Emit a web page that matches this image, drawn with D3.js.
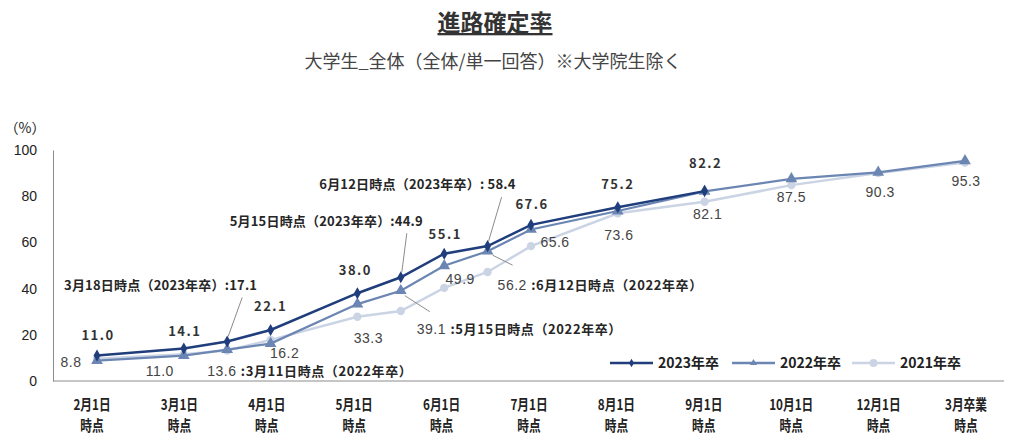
<!DOCTYPE html>
<html>
<head>
  <meta charset="utf-8">
  <script src="https://d3js.org/d3.v7.min.js"></script>
  <style>
  body { margin: 0; background: #fff; }
  svg { display: block; }
  .jp { font-family: "Noto Sans CJK JP", "Noto Sans", sans-serif; }
  .num { font-family: "Liberation Sans", Arial, sans-serif; }
  .y.axis text { font-family: "Liberation Sans", Arial, sans-serif; font-size: 14px; fill: #222; }
  .y.axis path { stroke: #8c8c8c; }
  </style>
</head>
<body>
<script>
// categories on the x axis (index 0..10), intermediate dates sit on half steps
var categories = ['2月1日', '3月1日', '4月1日', '5月1日', '6月1日', '7月1日', '8月1日', '9月1日', '10月1日', '12月1日', '3月卒業'];
var yTicks = [0, 20, 40, 60, 80, 100];

var pos2023 = [0, 1, 1.5, 2, 3, 3.5, 4, 4.5, 5, 6, 7];
var val2023 = [11.0, 14.1, 17.1, 22.1, 38.0, 44.9, 55.1, 58.4, 67.6, 75.2, 82.2];

var pos2022 = [0, 1, 1.5, 2, 3, 3.5, 4, 4.5, 5, 6, 7, 8, 9, 10];
var val2022 = [8.8, 11.0, 13.6, 16.2, 33.3, 39.1, 49.9, 56.2, 65.6, 73.6, 82.1, 87.5, 90.3, 95.3];

var pos2021 = [0, 1, 1.5, 2, 3, 3.5, 4, 4.5, 5, 6, 7, 8, 9, 10];
var val2021 = [9.6, 11.6, 13.2, 17.8, 27.8, 30.3, 40.3, 47.2, 58.4, 72.6, 77.6, 84.8, 90.0, 94.6];

var seriesNames = ['2023年卒', '2022年卒', '2021年卒'];

// annotations (intermediate dates)
var notes2023 = ['3月18日時点（2023年卒）:17.1', '5月15日時点（2023年卒）:44.9', '6月12日時点（2023年卒）: 58.4'];
var notes2022 = ['3月11日時点（2022年卒）', '5月15日時点（2022年卒）', '6月12日時点（2022年卒）'];

var W = 1021, H = 442;
var colors = ['#1f3e7b', '#6b86b2', '#cbd4e4'];

var svg = d3.select('body').append('svg')
  .attr('width', W).attr('height', H);

// title
svg.append('text').attr('class', 'jp')
  .attr('x', 495).attr('y', 31)
  .attr('text-anchor', 'middle')
  .style('font-size', '23px').style('font-weight', 'bold').style('fill', '#333')
  .style('text-decoration', 'underline')
  .text('進路確定率');

svg.append('text').attr('class', 'jp')
  .attr('x', 493).attr('y', 68)
  .attr('text-anchor', 'middle')
  .style('font-size', '18px').style('fill', '#444')
  .text('大学生_全体（全体/単一回答）※大学院生除く');

var x = d3.scaleLinear().domain([0, 10]).range([97, 965]);
var y = d3.scaleLinear().domain([0, 100]).range([381, 150]);

// y axis
var yAxis = d3.axisLeft(y).tickValues(yTicks).tickSizeInner(0).tickSizeOuter(0).tickPadding(16);
svg.append('g').attr('class', 'y axis')
  .attr('transform', 'translate(53,0)')
  .call(yAxis);

svg.append('text').attr('class', 'jp')
  .attr('x', 25).attr('y', 133).attr('text-anchor', 'middle')
  .style('font-size', '14px').style('fill', '#222')
  .text('（%）');

// x axis line
svg.append('line')
  .attr('x1', 53).attr('x2', x(10.45))
  .attr('y1', y(0)).attr('y2', y(0))
  .style('stroke', '#8c8c8c');

// x labels (two lines, condensed)
var xl = svg.append('g').selectAll('g')
  .data(categories).enter().append('g')
  .attr('transform', function(d, i) { return 'translate(' + (x(i) - 5 + i * 0.6) + ',0)'; });

xl.append('text').attr('class', 'jp')
  .attr('transform', 'translate(0,410) scale(0.78,1)')
  .attr('text-anchor', 'middle')
  .style('font-size', '15px').style('font-weight', 'bold').style('fill', '#222')
  .text(function(d) { return d; });
xl.append('text').attr('class', 'jp')
  .attr('transform', 'translate(0,431) scale(0.78,1)')
  .attr('text-anchor', 'middle')
  .style('font-size', '15px').style('font-weight', 'bold').style('fill', '#222')
  .text('時点');

var line = d3.line()
  .x(function(d) { return x(d[0]); })
  .y(function(d) { return y(d[1]); });

var series = [
  { pos: pos2021, val: val2021, color: colors[2], sym: d3.symbolCircle, size: 55, w: 2.5 },
  { pos: pos2022, val: val2022, color: colors[1], sym: d3.symbolTriangle, size: 60, w: 2.2 },
  { pos: pos2023, val: val2023, color: colors[0], sym: d3.symbolDiamond, size: 42, w: 2.5 }
];

series.forEach(function(s) {
  var pts = d3.zip(s.pos, s.val);
  svg.append('path').datum(pts)
    .attr('d', line)
    .style('fill', 'none').style('stroke', s.color).style('stroke-width', s.w);
  svg.append('g').selectAll('path')
    .data(pts).enter().append('path')
    .attr('d', d3.symbol().type(s.sym).size(s.size))
    .attr('transform', function(d) { return 'translate(' + x(d[0]) + ',' + y(d[1]) + ')'; })
    .style('fill', s.color);
});

// 2023 value labels on the month points (bold)
var off2023 = { 0: [1, -16], 1: [1, -12], 2: [0, -19], 3: [-2, -18], 4: [1, -15], 5: [1, -16], 6: [0, -18], 7: [1, -23] };
svg.append('g').selectAll('text')
  .data(d3.zip(pos2023, val2023).filter(function(d) { return off2023[d[0]]; }))
  .enter().append('text').attr('class', 'jp')
  .attr('x', function(d) { return x(d[0]) + off2023[d[0]][0]; })
  .attr('y', function(d) { return y(d[1]) + off2023[d[0]][1]; })
  .attr('text-anchor', 'middle')
  .style('font-size', '13px').style('font-weight', 'bold').style('fill', '#333')
  .style('letter-spacing', '1.5px')
  .text(function(d) { return d[1].toFixed(1); });

// 2022 value labels (regular)
var off2022 = { 0: [-26, 6], 1: [-24, 20], 2: [14, 14], 3: [11, 39], 4: [16, 18], 5: [24, 18], 6: [1, 29], 7: [3, 28], 8: [0, 23], 9: [2, 25], 10: [1, 25] };
svg.append('g').selectAll('text')
  .data(d3.zip(pos2022, val2022).filter(function(d) { return off2022[d[0]]; }))
  .enter().append('text').attr('class', 'num')
  .attr('x', function(d) { return x(d[0]) + off2022[d[0]][0]; })
  .attr('y', function(d) { return y(d[1]) + off2022[d[0]][1]; })
  .attr('text-anchor', 'middle')
  .style('font-size', '14px').style('fill', '#444')
  .style('letter-spacing', '0.5px')
  .text(function(d) { return d[1].toFixed(1); });

// 2023 annotations: text right end, y and leader line start, relative to point
var ann2023 = [
  { p: 1.5, tx: 30, ty: -51, lx: 15, ly: -44 },
  { p: 3.5, tx: 22, ty: -51, lx: 6, ly: -44 },
  { p: 4.5, tx: 28, ty: -57, lx: 14, ly: -49 }
];
ann2023.forEach(function(a, i) {
  var v = val2023[pos2023.indexOf(a.p)];
  var px = x(a.p), py = y(v);
  svg.append('line')
    .attr('x1', px + a.lx).attr('y1', py + a.ly)
    .attr('x2', px + 1).attr('y2', py - 5)
    .style('stroke', '#8c8c8c').style('stroke-width', 1);
  svg.append('text').attr('class', 'jp')
    .attr('x', px + a.tx).attr('y', py + a.ty)
    .attr('text-anchor', 'end')
    .style('font-size', '13px').style('font-weight', 'bold').style('fill', '#262626')
    .style('letter-spacing', '0.2px')
    .text(notes2023[i]);
});

// 2022 annotations: value then date, to the right
var ann2022 = [
  { p: 1.5, tx: -20, ty: 26, line: false },
  { p: 3.5, tx: 16, ty: 43, line: true, lx1: 4, ly1: 5, lx2: 29, ly2: 21 },
  { p: 4.5, tx: 10, ty: 39, line: true, lx1: 5, ly1: 4, lx2: 25, ly2: 14 }
];
ann2022.forEach(function(a, i) {
  var v = val2022[pos2022.indexOf(a.p)];
  var px = x(a.p), py = y(v);
  if (a.line) {
    svg.append('line')
      .attr('x1', px + a.lx1).attr('y1', py + a.ly1)
      .attr('x2', px + a.lx2).attr('y2', py + a.ly2)
      .style('stroke', '#8c8c8c').style('stroke-width', 1);
  }
  var t = svg.append('text')
    .attr('x', px + a.tx).attr('y', py + a.ty);
  t.append('tspan').attr('class', 'num')
    .style('font-size', '14px').style('fill', '#444').style('letter-spacing', '0.5px')
    .text(v.toFixed(1) + ' ');
  t.append('tspan').attr('class', 'jp')
    .style('font-size', '13px').style('font-weight', 'bold').style('fill', '#262626')
    .style('letter-spacing', '0.6px')
    .text(':' + notes2022[i]);
});

// legend
var legX = [610, 732, 852];
var legSyms = [d3.symbolDiamond, d3.symbolTriangle, d3.symbolCircle];
var leg = svg.append('g').selectAll('g')
  .data(seriesNames).enter().append('g')
  .attr('transform', function(d, i) { return 'translate(' + legX[i] + ',363)'; });
leg.append('line')
  .attr('x1', 0).attr('x2', 43).attr('y1', 0).attr('y2', 0)
  .style('stroke', function(d, i) { return colors[i]; })
  .style('stroke-width', 2.5);
leg.append('path')
  .attr('d', function(d, i) { return d3.symbol().type(legSyms[i]).size(i == 2 ? 50 : 22)(); })
  .attr('transform', 'translate(21.5,0)')
  .style('fill', function(d, i) { return colors[i]; });
leg.append('text').attr('class', 'jp')
  .attr('x', 48).attr('y', 5)
  .style('font-size', '14px').style('font-weight', 'bold').style('fill', '#222')
  .text(function(d) { return d; });
</script>
</body>
</html>
